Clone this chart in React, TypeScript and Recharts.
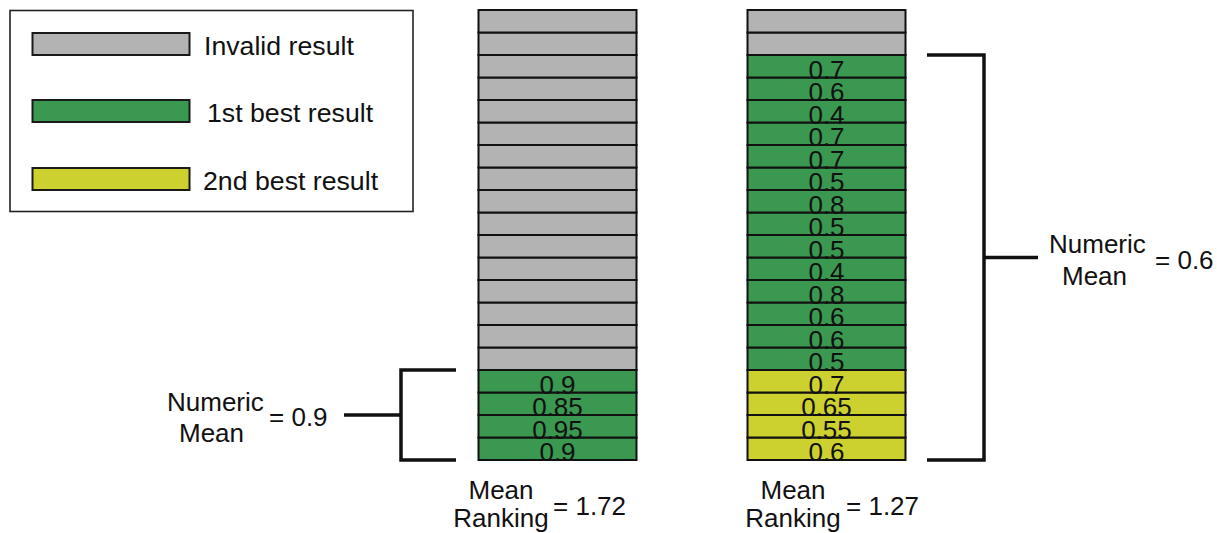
import { BarChart, Bar, XAxis, YAxis, Cell, LabelList, Legend } from "recharts";

const font = "'Liberation Sans', Arial, sans-serif";
const ink = "#111111";

const columns = ["Method A", "Method B"];
const slotCount = 20;
// scores are listed bottom-up, as they stack in each column
const leftFirst = [0.9, 0.95, 0.85, 0.9];
const rightSecond = [0.6, 0.55, 0.65, 0.7];
const rightFirst = [0.5, 0.6, 0.6, 0.8, 0.4, 0.5, 0.5, 0.8, 0.5, 0.7, 0.7, 0.4, 0.6, 0.7];
const meanRanking = ["1.72", "1.27"];
const numericMean = ["0.9", "0.6"];

const kinds = [
  { key: "invalid", label: "Invalid result", color: "#b3b3b3" },
  { key: "first", label: "1st best result", color: "#3a9850" },
  { key: "second", label: "2nd best result", color: "#cdd12f" },
];
const colorOf: Record<string, string> = Object.fromEntries(kinds.map((k) => [k.key, k.color]));

type Slot = { kind: string; score: number | null };

function stack(groups: [string, number[]][]): Slot[] {
  const out: Slot[] = [];
  groups.forEach(([kind, scores]) => scores.forEach((score) => out.push({ kind, score })));
  while (out.length < slotCount) out.push({ kind: "invalid", score: null });
  return out;
}

const stacks = [
  stack([["first", leftFirst]]),
  stack([["second", rightSecond], ["first", rightFirst]]),
];

const data = columns.map((name, c) => {
  const row: Record<string, any> = { name };
  stacks[c].forEach((slot, i) => {
    row[`s${i}`] = 1;
    row[`k${i}`] = slot.kind;
    row[`v${i}`] = slot.score;
  });
  return row;
});

// layout
const W = 1217;
const H = 533;
const margin = { top: 10, right: 256.5, left: 422.5, bottom: 30 };
const axisH = 43;
const plotBottom = H - margin.bottom - axisH;
const cellH = (plotBottom - margin.top) / slotCount;
const yAt = (n: number) => plotBottom - n * cellH;

function CellLabel(props: any) {
  const { x, y, width, height, value } = props;
  if (value == null || value === "") return null;
  return (
    <text
      x={Number(x) + Number(width) / 2}
      y={Number(y) + Number(height) + 1}
      textAnchor="middle"
      fontSize={26}
      fontFamily={font}
      fill={ink}
    >
      {value}
    </text>
  );
}

const rankOffsets = [
  { word: -56, eq: -4 },
  { word: -33, eq: 20 },
];

function RankTick(props: any) {
  const { x, y, index } = props;
  const o = rankOffsets[index] ?? rankOffsets[0];
  const t = { fontSize: 26, fontFamily: font, fill: ink };
  return (
    <g>
      <text x={x + o.word} y={y + 39} textAnchor="middle" {...t}>Mean</text>
      <text x={x + o.word} y={y + 67} textAnchor="middle" {...t}>Ranking</text>
      <text x={x + o.eq} y={y + 55} {...t}>= {meanRanking[index]}</text>
    </g>
  );
}

function LegendBox() {
  const rows = [33, 100, 168];
  const textX = [204, 207, 203];
  return (
    <svg width={406} height={205} style={{ display: "block" }}>
      <rect x={1} y={1.5} width={403} height={201} fill="#fff" stroke="#222" strokeWidth={1.6} />
      {kinds.map((k, i) => (
        <g key={k.key}>
          <rect x={23.5} y={rows[i] - 9} width={157} height={22} fill={k.color} stroke="#1a1a1a" strokeWidth={2} />
          <text x={textX[i] - 9} y={rows[i] + 13} fontSize={26.7} fontFamily={font} fill={ink}>
            {k.label}
          </text>
        </g>
      ))}
    </svg>
  );
}

function Bracket({ top, bottom, spine, arm, tick, textX, value }: any) {
  const mid = (top + bottom) / 2;
  const t = { fontSize: 26, fontFamily: font, fill: ink };
  return (
    <g>
      <path
        d={`M${arm},${top} H${spine} V${bottom} H${arm} M${spine},${mid} H${tick}`}
        fill="none"
        stroke={ink}
        strokeWidth={3.5}
      />
      <text x={textX[0]} y={mid - 4.5} {...t}>Numeric</text>
      <text x={textX[1]} y={mid + 27} {...t}>Mean</text>
      <text x={textX[2]} y={mid + 11} {...t}>= {value}</text>
    </g>
  );
}

export default function App() {
  const leftTop = yAt(leftFirst.length);
  const rightTop = yAt(rightSecond.length + rightFirst.length);
  return (
    <div style={{ position: "absolute", left: 0, top: 0, width: W, height: H, background: "#fff" }}>
      <BarChart width={W} height={H} data={data} margin={margin} barSize={158}>
        <XAxis
          dataKey="name"
          axisLine={false}
          tickLine={false}
          tickSize={0}
          tickMargin={0}
          height={axisH}
          interval={0}
          tick={<RankTick />}
        />
        <YAxis hide domain={[0, slotCount]} />
        <Legend
          layout="vertical"
          align="center"
          verticalAlign="middle"
          wrapperStyle={{ left: 9, top: 9, width: 406, height: 205 }}
          content={() => <LegendBox />}
        />
        {Array.from({ length: slotCount }, (_, i) => (
          <Bar
            key={i}
            dataKey={`s${i}`}
            stackId="cells"
            stroke="#111"
            strokeWidth={2}
            isAnimationActive={false}
          >
            {data.map((row, c) => (
              <Cell key={c} fill={colorOf[row[`k${i}`]]} />
            ))}
            <LabelList dataKey={`v${i}`} content={<CellLabel />} />
          </Bar>
        ))}
        <Bracket
          top={leftTop}
          bottom={plotBottom}
          spine={401}
          arm={456}
          tick={344}
          textX={[167, 179, 269]}
          value={numericMean[0]}
        />
        <Bracket
          top={rightTop}
          bottom={plotBottom}
          spine={984}
          arm={927}
          tick={1038}
          textX={[1049, 1062, 1155]}
          value={numericMean[1]}
        />
      </BarChart>
    </div>
  );
}
